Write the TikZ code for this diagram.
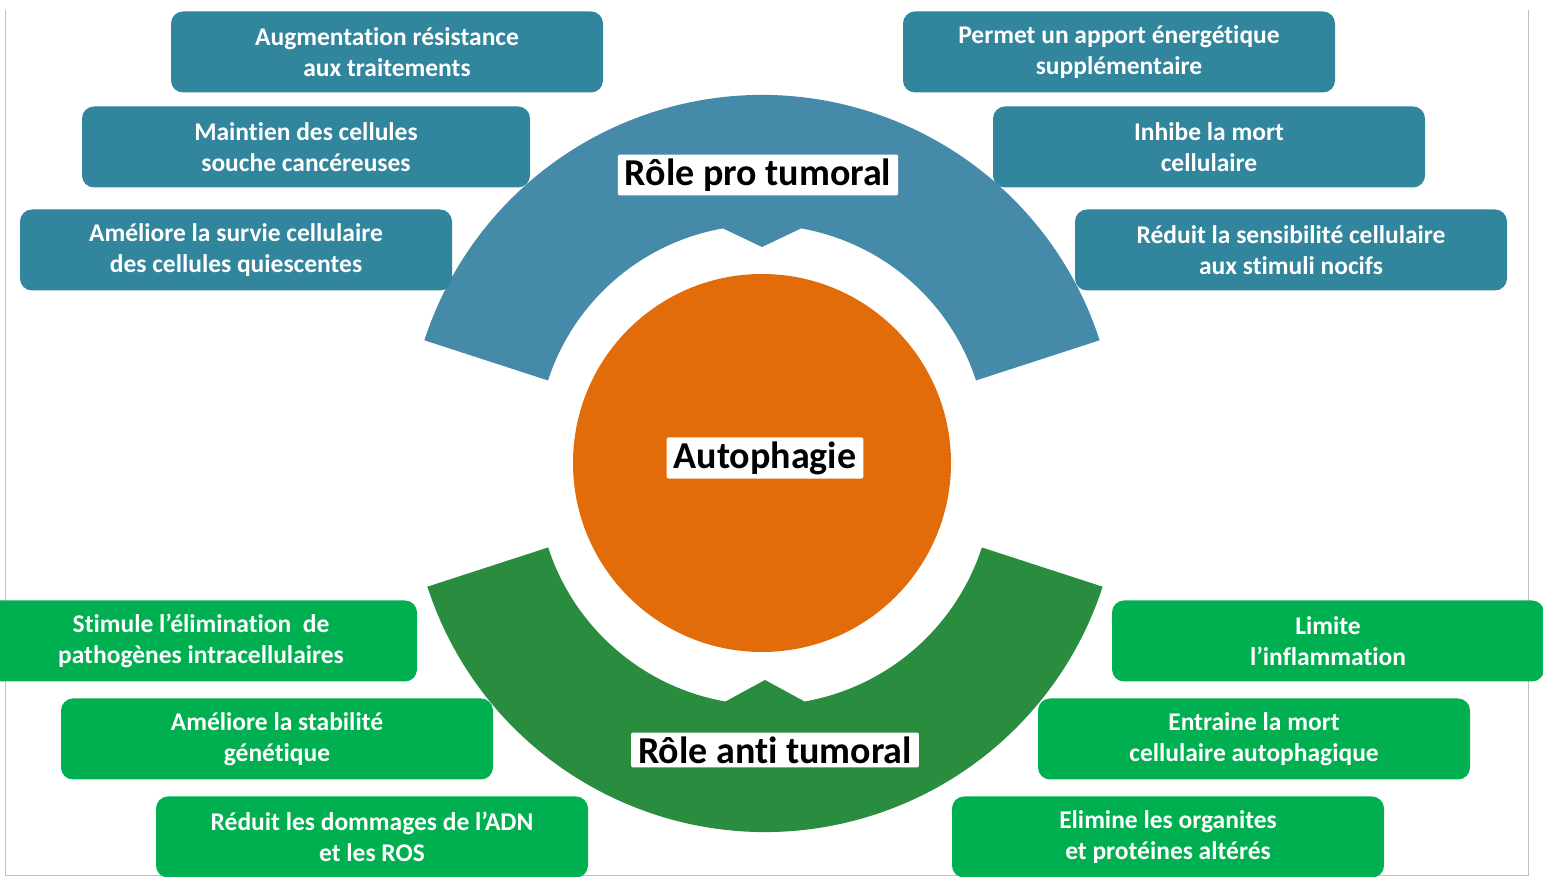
\documentclass[tikz,border=0pt]{standalone}
\usepackage{fontspec}
\setmainfont{Carlito}[Ligatures=NoCommon]
\definecolor{bleuboite}{HTML}{31859C}
\definecolor{bleuarc}{HTML}{468AA9}
\definecolor{vertboite}{HTML}{00B050}
\definecolor{vertarc}{HTML}{2A8C3E}
\definecolor{orangeauto}{HTML}{E26B0A}

\begin{document}
\begin{tikzpicture}[x=1pt,y=1pt,
    pro/.style={rectangle, rounded corners=12pt, fill=bleuboite, text=white,
    align=center, minimum width=432pt, minimum height=81pt,
    font=\bfseries\fontsize{25.5}{31}\selectfont},
    anti/.style={pro, fill=vertboite},
    titre/.style={fill=white, rounded corners=2pt, inner xsep=7pt, inner ysep=4pt,
    font=\bfseries\fontsize{38}{44}\selectfont}]
    \useasboundingbox (0,0) rectangle (1543,877);
    \draw[black!25, line width=0.8pt] (5,867) -- (5,2) -- (1528,2) -- (1528,867);
    \begin{scope}[shift={(762,427)}]
        \fill[bleuarc] (18:355) arc[start angle=18, end angle=162, radius=355]
            -- (162:225) arc[start angle=162, end angle=100, radius=225]
            -- (270:-203) -- (80:225) arc[start angle=80, end angle=18, radius=225] -- cycle;
    \end{scope}
    \begin{scope}[shift={(765,400)}]
        \fill[vertarc] (198:355) arc[start angle=198, end angle=342, radius=355]
            -- (342:228) arc[start angle=342, end angle=280, radius=228]
            -- (270:203) -- (260:228) arc[start angle=260, end angle=198, radius=228] -- cycle;
    \end{scope}
    \node[circle, fill=orangeauto, minimum size=378pt, inner sep=0pt] (A) at (762,414) {};
    \node[titre] (auto) at (765,419) {Autophagie};
    \node[titre] (roleP) at (758,702) {Rôle pro tumoral};
    \node[titre] (roleA) at (775,127) {Rôle anti tumoral};
    \node[pro] (P1) at (387,825) {Augmentation résistance\\aux traitements};
    \node[pro, minimum width=448pt] (P2) at (306,730) {Maintien des cellules\\souche cancéreuses};
    \node[pro] (P3) at (236,627) {Améliore la survie cellulaire\\des cellules quiescentes};
    \node[pro] (P4) at (1119,825) {Permet un apport énergétique\\supplémentaire};
    \node[pro] (P5) at (1209,730) {Inhibe la mort\\cellulaire};
    \node[pro] (P6) at (1291,627) {Réduit la sensibilité cellulaire\\aux stimuli nocifs};
    \node[anti] (T1) at (201,236) {Stimule l’élimination\ \ de\\pathogènes intracellulaires};
    \node[anti] (T2) at (277,138) {Améliore la stabilité\\génétique};
    \node[anti] (T3) at (372,40) {Réduit les dommages de l’ADN\\et les ROS};
    \node[anti] (T4) at (1328,236) {Limite\\l’inflammation};
    \node[anti] (T5) at (1254,138) {Entraine la mort\\cellulaire autophagique};
    \node[anti] (T6) at (1168,40) {Elimine les organites\\et protéines altérés};
\end{tikzpicture}
\end{document}
